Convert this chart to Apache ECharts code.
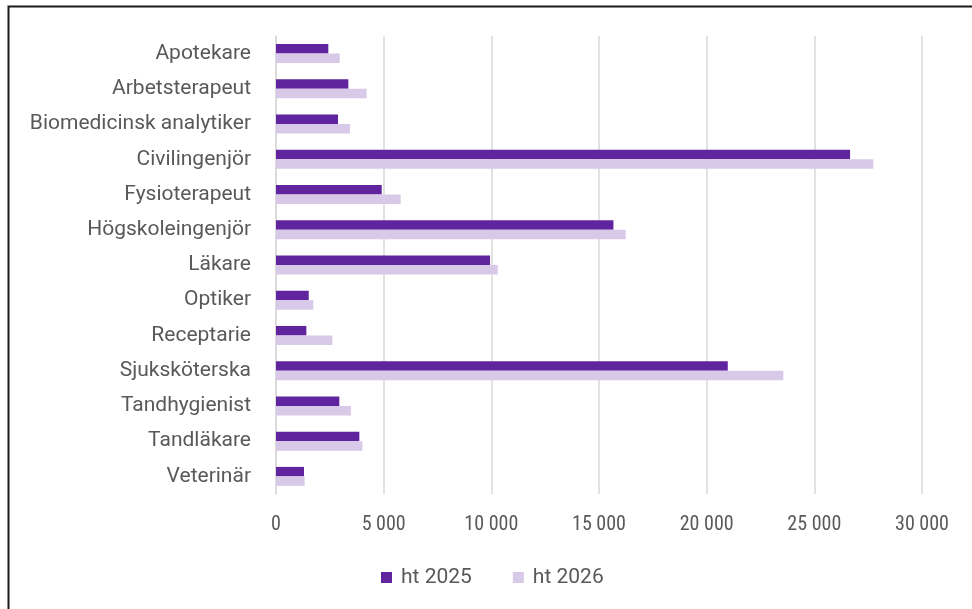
<!DOCTYPE html>
<html>
<head>
<meta charset="utf-8">
<script src="https://cdn.jsdelivr.net/npm/echarts@6/dist/echarts.min.js"></script>
<style>
html,body{margin:0;padding:0;background:#fff;}
#c{width:972px;height:609px;}
</style>
</head>
<body>
<div id="c"></div>
<script>
const categories = ['Apotekare','Arbetsterapeut','Biomedicinsk analytiker','Civilingenjör','Fysioterapeut','Högskoleingenjör','Läkare','Optiker','Receptarie','Sjuksköterska','Tandhygienist','Tandläkare','Veterinär'];
const ht2025 = [2430, 3360, 2880, 26660, 4910, 15670, 9940, 1520, 1410, 20980, 2940, 3870, 1300];
const ht2026 = [2960, 4210, 3440, 27740, 5790, 16240, 10300, 1730, 2620, 23560, 3480, 4010, 1330];
const xTicks = [0, 5000, 10000, 15000, 20000, 25000, 30000];

const fmt = v => String(v).replace(/\B(?=(\d{3})+(?!\d))/g, ' ');
const chart = echarts.init(document.getElementById('c'), null, {renderer:'canvas'});
chart.setOption({
  animation:false,
  backgroundColor:'#fff',
  textStyle:{fontFamily:'Roboto'},
  graphic:[{type:'rect',shape:{x:8.5,y:6.5,width:1100,height:800},style:{fill:'none',stroke:'#1a1a1a',lineWidth:2},silent:true}],
  grid:{left:276,right:50,top:36,bottom:115,containLabel:false},
  legend:{
    left:381, top:567, padding:0, itemWidth:11, itemHeight:11, itemGap:41,
    icon:'rect',
    textStyle:{color:'#595959',fontSize:21,fontFamily:'Roboto',padding:[0,0,0,4]},
    data:['ht 2025','ht 2026']
  },
  xAxis:{
    type:'value', min:xTicks[0], max:xTicks[xTicks.length-1], interval:5000,
    axisLine:{show:false}, axisTick:{show:false},
    splitLine:{lineStyle:{color:'#d9d9d9',width:1.5}},
    axisLabel:{color:'#595959',fontSize:20,fontFamily:'"Liberation Sans Narrow", "Roboto Condensed", Roboto',margin:21,formatter:fmt}
  },
  yAxis:{
    type:'category', data:categories, inverse:true,
    axisLine:{show:true,lineStyle:{color:'#d9d9d9',width:1.5}},
    axisTick:{show:false},
    axisLabel:{color:'#595959',fontSize:21,margin:25}
  },
  series:[
    {name:'ht 2025',type:'bar',data:ht2025,barWidth:9.5,barGap:'0%',itemStyle:{color:'#60259e'}},
    {name:'ht 2026',type:'bar',data:ht2026,barWidth:9.5,barGap:'0%',itemStyle:{color:'#d9c9e8'}}
  ]
});
</script>
</body>
</html>
